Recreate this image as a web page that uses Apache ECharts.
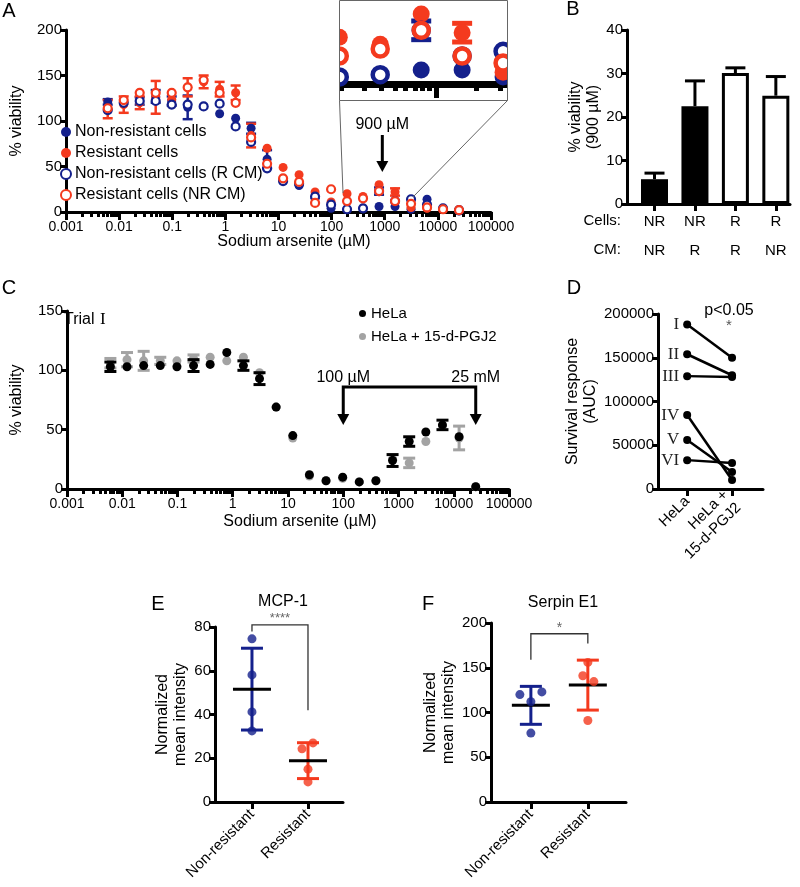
<!DOCTYPE html>
<html><head><meta charset="utf-8">
<script src="https://cdn.jsdelivr.net/npm/echarts@6/dist/echarts.min.js"></script>
<style>html,body{margin:0;padding:0;background:#fff}#c{width:800px;height:887px}</style>
</head><body><div id="c"></div>
<script>
// ---------------- data ----------------
const concentrations = [0.0061,0.0122,0.0244,0.0488,0.0977,0.195,0.39,0.78,1.56,3.05,6.1,12.2,24.4,48.8,97.7,195,390,781,1562,3125,6250,12500,25000];
// Panel A
const aNonResistant      = [121,121,122,127,122,115,116,108,103,92,58,35,29,15,4,3,4,6,6,3,14,3,1];
const aNonResistantSD    = [3,null,4,7,5,13,null,null,null,6,10,null,null,null,null,null,null,null,null,null,null,null,null];
const aResistant         = [113,118,120,126,124,137,143,135,131,84,70,49,41,22,11,20,17,30,22,5,4,3,2];
const aResistantSD       = [10,9,7,18,null,10,7,8,8,13,null,null,null,null,null,null,null,null,4,null,null,null,null];
const aNonResistantRCM   = [112,120,122,122,118,118,116,119,94,77,48,34,31,17,8,3,4,23,12,14,8,4,2];
const aNonResistantRCMSD = [null,null,null,null,null,null,null,null,null,null,null,null,null,null,null,null,null,4,null,null,null,null,null];
const aResistantNRCM     = [114,123,131,131,131,137,145,131,120,82,53,37,33,10,25,12,15,23,12,9,5,3,2];
// Panel B
const bCells = ['NR','NR','R','R'];
const bCM    = ['NR','R','R','NR'];
const bMean  = [5.7,22.5,30.1,24.9];
const bSD    = [1.4,5.8,1.2,4.4];
// Panel C
const cHeLa     = [103,103,104,104,103,104,105,115,104,93,69,45,12,7,10,6,7,24,40,48,54,44,2];
const cHeLaSD   = [4,null,null,null,null,5,null,null,4,5,null,null,null,null,null,null,null,5,4,null,4,null,null];
const cPGJ2     = [106,109,108,108,108,110,111,108,111,98,69,43,11,7,9,6,7,25,22,40,53,43,2];
const cPGJ2SD   = [4,6,8,3,null,3,null,null,null,null,null,null,null,null,null,null,null,null,4,null,null,10,null];
// Panel D
const dTrials   = ['I','II','III','IV','V','VI'];
const dHeLa     = [188000,154000,129000,84500,56000,33000];
const dHeLaPGJ2 = [150000,130000,128000,10300,19400,29700];
const dGroups   = ['HeLa','HeLa +\n15-d-PGJ2'];
// Panel E (MCP-1)
const groups      = ['Non-resistant','Resistant'];
const eNonRes     = [74.6,58.1,41.2,32.5];
const eRes        = [24.3,27.0,15.0,9.2];
const eMean       = [51.6,18.9];
const eSD         = [18.7,8.2];
// Panel F (Serpin E1)
const fNonRes     = [120,123,112,77];
const fRes        = [156,141,134.5,91];
const fMean       = [108,130.6];
const fSD         = [21.2,27.9];
// x-axis tick labels
const logTickLabels = [0.001,0.01,0.1,1,10,100,1000,10000,100000];

// ---------------- style ----------------
const FONT = '"Liberation Sans", Arial, Helvetica, sans-serif';
const SERIF = '"Liberation Serif", "DejaVu Serif", serif';
const BLUE = '#14208c', RED = '#f43a1e', GRAY = '#a3a3a3', BLACK = '#000';
const jitterE = [[0,0,0,0],[-6,5,0,0]];
const jitterF = [[-11,11,0,0],[0,-5,6,0]];

const minorTicks = [];
for (let d = -3; d < 5; d++) for (let k = 2; k <= 9; k++) minorTicks.push(+(k * Math.pow(10, d)).toPrecision(2));
const fmtNum = v => String(+Number(v).toPrecision(6));

function logAxisPair(gridIndex, min, max, o) {
  const inR = v => v >= min * 0.999 && v <= max * 1.001;
  const major = {
    type: 'log', logBase: 10, gridIndex, min, max, position: 'bottom',
    axisLine: { show: true, onZero: false, lineStyle: { color: BLACK, width: o.lw } },
    axisTick: { show: true, length: o.major, customValues: logTickLabels.filter(inR), lineStyle: { color: BLACK, width: o.tw } },
    axisLabel: { show: o.labels, customValues: logTickLabels.filter(inR), formatter: fmtNum, fontSize: 14, color: BLACK, fontFamily: FONT, margin: 8,
      alignMinLabel: 'center', alignMaxLabel: 'center' },
    splitLine: { show: false }, minorTick: { show: false }
  };
  const minor = {
    type: 'log', logBase: 10, gridIndex, min, max, position: 'bottom',
    axisLine: { show: false, onZero: false },
    axisTick: { show: true, length: o.minor, customValues: minorTicks.filter(inR), lineStyle: { color: BLACK, width: o.tw } },
    axisLabel: { show: false }, splitLine: { show: false }
  };
  return [major, minor];
}
function valueY(gridIndex, max, interval, name, nameGap, show = true) {
  return {
    type: 'value', gridIndex, min: 0, max, interval, show,
    name, nameLocation: 'middle', nameGap, nameRotate: 90,
    nameTextStyle: { fontSize: 16, color: BLACK, fontFamily: FONT, lineHeight: 18 },
    axisLine: { show: true, lineStyle: { color: BLACK, width: 3 } },
    axisTick: { show: true, length: 6, lineStyle: { color: BLACK, width: 3 } },
    axisLabel: { fontSize: 15, color: BLACK, fontFamily: FONT, margin: 4, formatter: v => String(v) },
    splitLine: { show: false }
  };
}
function catValueX(gridIndex, min, max, labels, o) {
  const vals = labels.map((_, i) => i + 1);
  return {
    type: 'value', gridIndex, min, max, position: 'bottom',
    axisLine: { show: true, onZero: false, lineStyle: { color: BLACK, width: 3 } },
    axisTick: { show: true, length: 7, customValues: vals, lineStyle: { color: BLACK, width: 3 } },
    axisLabel: { customValues: vals, formatter: v => labels[Math.round(v) - 1], rotate: o.rotate || 0,
      fontSize: 15, color: BLACK, fontFamily: FONT, margin: o.margin || 8, lineHeight: o.lineHeight || 18 },
    splitLine: { show: false }
  };
}
function errorSeries(name, xi, yi, xs, ys, sds, color, o) {
  const data = [];
  xs.forEach((x, i) => { if (sds[i] != null) data.push([x, o.upOnly ? ys[i] : ys[i] - sds[i], ys[i] + sds[i]]); });
  return {
    type: 'custom', name, xAxisIndex: xi, yAxisIndex: yi, data, silent: true, clip: true, z: o.z || 2,
    encode: { x: 0, y: [1, 2] },
    renderItem(params, api) {
      const x = api.value(0), p1 = api.coord([x, api.value(1)]), p2 = api.coord([x, api.value(2)]);
      const st = { stroke: color, lineWidth: o.lw };
      const ch = [
        { type: 'line', shape: { x1: p1[0], y1: p1[1], x2: p2[0], y2: p2[1] }, style: st },
        { type: 'line', shape: { x1: p2[0] - o.cap, y1: p2[1], x2: p2[0] + o.cap, y2: p2[1] }, style: st }
      ];
      if (!o.upOnly) ch.push({ type: 'line', shape: { x1: p1[0] - o.cap, y1: p1[1], x2: p1[0] + o.cap, y2: p1[1] }, style: st });
      return { type: 'group', children: ch };
    }
  };
}
function meanSDSeries(name, xi, yi, means, sds, colors) {
  return {
    type: 'custom', name, xAxisIndex: xi, yAxisIndex: yi, silent: true, z: 4,
    data: means.map((m, i) => [i + 1, m, sds[i]]),
    encode: { x: 0, y: 1 },
    renderItem(params, api) {
      const x = api.value(0), m = api.value(1), s = api.value(2);
      const lo = api.coord([x, m - s]), hi = api.coord([x, m + s]), mid = api.coord([x, m]);
      const c = colors[params.dataIndex];
      const st = { stroke: c, lineWidth: 3 };
      return { type: 'group', children: [
        { type: 'line', shape: { x1: lo[0], y1: lo[1], x2: hi[0], y2: hi[1] }, style: st },
        { type: 'line', shape: { x1: hi[0] - 11, y1: hi[1], x2: hi[0] + 11, y2: hi[1] }, style: st },
        { type: 'line', shape: { x1: lo[0] - 11, y1: lo[1], x2: lo[0] + 11, y2: lo[1] }, style: st },
        { type: 'line', shape: { x1: mid[0] - 19, y1: mid[1], x2: mid[0] + 19, y2: mid[1] }, style: { stroke: BLACK, lineWidth: 3 } }
      ] };
    }
  };
}
const pts = (ys) => concentrations.map((c, i) => [c, ys[i]]);
function scatter(name, xi, yi, ys, color, size, hollow, bw, z) {
  return {
    type: 'scatter', name, xAxisIndex: xi, yAxisIndex: yi, data: pts(ys), symbol: 'circle', symbolSize: size, clip: true, z: z || 3,
    itemStyle: hollow ? { color: '#fff', borderColor: color, borderWidth: bw, opacity: 1 } : { color, opacity: 1 },
    emphasis: { disabled: true }
  };
}

// ---------------- axes ----------------
const [axA, axAm] = logAxisPair(0, 0.001, 100000, { lw: 3, tw: 3, major: 8, minor: 5, labels: true });
const [axI, axIm] = logAxisPair(1, 194, 3340, { lw: 7, tw: 5, major: 14, minor: 7, labels: false });
const [axC, axCm] = logAxisPair(3, 0.001, 100000, { lw: 3, tw: 3, major: 8, minor: 5, labels: true });
const xAxes = [
  axA, axAm, axI, axIm,
  catValueX(2, 0.32, 4.35, bCells.map((c, i) => c + '\n' + bCM[i]), { margin: 3, lineHeight: 29 }),
  axC, axCm,
  catValueX(4, 0.35, 2.69, dGroups, { rotate: 45, margin: 10 }),
  catValueX(5, 0.34, 2.625, groups, { rotate: 45, margin: 10 }),
  catValueX(6, 0.30, 2.67, groups, { rotate: 45, margin: 10 })
];
const yAxes = [
  valueY(0, 200, 50, '% viability', 40),
  valueY(1, 36, 12, '', 0, false),
  valueY(2, 40, 10, '% viability\n(900 µM)', 23),
  valueY(3, 150, 50, '% viability', 41),
  valueY(4, 200000, 50000, 'Survival response\n(AUC)', 53),
  valueY(5, 80, 20, 'Normalized\nmean intensity', 25),
  valueY(6, 200, 50, 'Normalized\nmean intensity', 31)
];

// ---------------- series ----------------
const series = [];
// A main
series.push(scatter('Non-resistant cells', 0, 0, aNonResistant, BLUE, 9, false));
series.push(scatter('Resistant cells', 0, 0, aResistant, RED, 9, false));
series.push(scatter('Non-resistant cells (R CM)', 0, 0, aNonResistantRCM, BLUE, 8, true, 2.2));
series.push(scatter('Resistant cells (NR CM)', 0, 0, aResistantNRCM, RED, 8, true, 2.2));
series.push(errorSeries('eA1', 0, 0, concentrations, aNonResistant, aNonResistantSD, BLUE, { lw: 2.5, cap: 5 }));
series.push(errorSeries('eA2', 0, 0, concentrations, aResistant, aResistantSD, RED, { lw: 2.5, cap: 5 }));
series.push(errorSeries('eA3', 0, 0, concentrations, aNonResistantRCM, aNonResistantRCMSD, BLUE, { lw: 2.5, cap: 5 }));
// A inset (same data, magnified)
series.push(scatter('iNR', 2, 1, aNonResistant, BLUE, 17, false));
series.push(scatter('iR', 2, 1, aResistant, RED, 17, false));
series.push(scatter('iNRcm', 2, 1, aNonResistantRCM, BLUE, 15, true, 4.5));
series.push(scatter('iRcm', 2, 1, aResistantNRCM, RED, 15, true, 4.5));
series.push(errorSeries('ieA1', 2, 1, concentrations, aNonResistant, aNonResistantSD, BLUE, { lw: 5, cap: 10 }));
series.push(errorSeries('ieA2', 2, 1, concentrations, aResistant, aResistantSD, RED, { lw: 5, cap: 10 }));
series.push(errorSeries('ieA3', 2, 1, concentrations, aNonResistantRCM, aNonResistantRCMSD, BLUE, { lw: 5, cap: 10 }));
// B
series.push({
  type: 'bar', name: 'B', xAxisIndex: 4, yAxisIndex: 2, barWidth: 27, silent: true,
  data: bMean.map((v, i) => ({ value: [i + 1, v], itemStyle: bCells[i] === 'NR' ? { color: BLACK } : { color: '#fff', borderColor: BLACK, borderWidth: 3 } }))
});
series.push(errorSeries('eB', 4, 2, [1, 2, 3, 4], bMean, bSD, BLACK, { lw: 3, cap: 10, upOnly: true, z: 1 }));
// C
series.push(scatter('HeLa + 15-d-PGJ2', 5, 3, cPGJ2, GRAY, 9, false, 0, 2));
series.push(errorSeries('eC2', 5, 3, concentrations, cPGJ2, cPGJ2SD, GRAY, { lw: 3, cap: 6, z: 2 }));
series.push(scatter('HeLa', 5, 3, cHeLa, BLACK, 9, false, 0, 3));
series.push(errorSeries('eC1', 5, 3, concentrations, cHeLa, cHeLaSD, BLACK, { lw: 3, cap: 6, z: 3 }));
// D
dTrials.forEach((t, i) => {
  series.push({
    type: 'line', name: 'Trial ' + t, xAxisIndex: 7, yAxisIndex: 4, symbol: 'circle', symbolSize: 8, silent: true,
    lineStyle: { color: BLACK, width: 2.5 }, itemStyle: { color: BLACK },
    data: [
      { value: [1, dHeLa[i]], label: { show: true, formatter: t, position: 'left', distance: 4, fontFamily: SERIF, fontSize: 17, color: '#222' } },
      [2, dHeLaPGJ2[i]]
    ]
  });
});
// E
series.push({ type: 'scatter', name: 'eN', xAxisIndex: 8, yAxisIndex: 5, symbolSize: 9, z: 5, itemStyle: { color: BLUE },
  data: eNonRes.map((v, i) => ({ value: [1, v], symbolOffset: [jitterE[0][i], 0] })) });
series.push({ type: 'scatter', name: 'eR', xAxisIndex: 8, yAxisIndex: 5, symbolSize: 9, z: 5, itemStyle: { color: RED },
  data: eRes.map((v, i) => ({ value: [2, v], symbolOffset: [jitterE[1][i], 0] })) });
series.push(meanSDSeries('eMS', 8, 5, eMean, eSD, [BLUE, RED]));
// F
series.push({ type: 'scatter', name: 'fN', xAxisIndex: 9, yAxisIndex: 6, symbolSize: 9, z: 5, itemStyle: { color: BLUE },
  data: fNonRes.map((v, i) => ({ value: [1, v], symbolOffset: [jitterF[0][i], 0] })) });
series.push({ type: 'scatter', name: 'fR', xAxisIndex: 9, yAxisIndex: 6, symbolSize: 9, z: 5, itemStyle: { color: RED },
  data: fRes.map((v, i) => ({ value: [2, v], symbolOffset: [jitterF[1][i], 0] })) });
series.push(meanSDSeries('fMS', 9, 6, fMean, fSD, [BLUE, RED]));

const option = {
  animation: false,
  backgroundColor: '#fff',
  textStyle: { fontFamily: FONT },
  grid: [
    { left: 53, top: 30, width: 438, height: 182 },   // A
    { left: 339, top: 0, width: 168, height: 84 },    // inset
    { left: 627, top: 30, width: 163, height: 174 },  // B
    { left: 52, top: 311, width: 457, height: 178 },  // C
    { left: 658, top: 314, width: 105, height: 175 }, // D
    { left: 215, top: 627, width: 128, height: 175 }, // E
    { left: 491, top: 623, width: 135, height: 179 }  // F
  ],
  xAxis: xAxes,
  yAxis: yAxes,
  legend: [
    { data: ['Non-resistant cells', 'Resistant cells', 'Non-resistant cells (R CM)', 'Resistant cells (NR CM)'],
      orient: 'vertical', left: 60, top: 124, itemWidth: 10, itemHeight: 10, itemGap: 5, padding: 0, selectedMode: false,
      textStyle: { fontSize: 16, color: BLACK, fontFamily: FONT, padding: [0, 0, 0, -1] } },
    { data: ['HeLa', 'HeLa + 15-d-PGJ2'],
      orient: 'vertical', left: 359, top: 306, itemWidth: 7, itemHeight: 7, itemGap: 8, padding: 0, selectedMode: false,
      textStyle: { fontSize: 15, color: BLACK, fontFamily: FONT } }
  ],
  series
};

const chart = echarts.init(document.getElementById('c'));
chart.setOption(option);

// ---------------- annotations ----------------
const P = (xi, yi, pt) => chart.convertToPixel({ xAxisIndex: xi, yAxisIndex: yi }, pt);
const txt = (x, y, text, size, extra) => ({ type: 'text', x, y, z: 60, style: Object.assign({ text, fontSize: size, fill: BLACK, fontFamily: FONT, textAlign: 'center', textVerticalAlign: 'middle' }, extra || {}) });
const line = (pts, w, c) => ({ type: 'polyline', z: 60, shape: { points: pts }, style: { stroke: c || BLACK, lineWidth: w, fill: null } });
const head = (x, y, w, h) => ({ type: 'polygon', z: 60, shape: { points: [[x - w, y - h], [x + w, y - h], [x, y]] }, style: { fill: BLACK } });

const g = [];
// masks so the magnified inset is cut at its frame
g.push({ type: 'rect', z: 50, shape: { x: 315, y: 0, width: 24, height: 100 }, style: { fill: '#fff' } });
g.push({ type: 'rect', z: 50, shape: { x: 508, y: 0, width: 24, height: 100 }, style: { fill: '#fff' } });
// panel letters
[['A', 9, 11], ['B', 573, 9], ['C', 9, 288], ['D', 574, 288], ['E', 158, 604], ['F', 428, 604]].forEach(([t, x, y]) => g.push(txt(x, y, t, 20)));
// titles
g.push(txt(283, 602, 'MCP-1', 16));
g.push(txt(563, 603, 'Serpin E1', 16));
g.push(txt(294, 242, 'Sodium arsenite (µM)', 16));
g.push(txt(300, 522, 'Sodium arsenite (µM)', 16));
// B row headers
g.push(txt(621, 221, 'Cells:', 15, { textAlign: 'right' }));
g.push(txt(621, 250, 'CM:', 15, { textAlign: 'right' }));
// A arrow at 900 µM
const a900 = P(0, 0, [900, 44]);
g.push(txt(a900[0], 125, '900 µM', 16));
g.push(line([[a900[0], 135], [a900[0], a900[1] - 8]], 3));
g.push(head(a900[0], a900[1], 6, 11));
// inset box and connectors
g.push({ type: 'rect', z: 60, shape: { x: 339.5, y: 0.5, width: 168, height: 100 }, style: { stroke: '#666', lineWidth: 1, fill: null } });
g.push(line([[339.5, 100.5], [343, 193]], 1, '#666'));
g.push(line([[507.5, 100.5], [413, 197]], 1, '#666'));
// C Trial label
g.push(txt(64, 320, 'Trial ', 16, { textAlign: 'left' }));
g.push(txt(100, 320, 'I', 17, { textAlign: 'left', fontFamily: SERIF }));
// C bracket arrows (100 µM and 25 mM)
const c100 = P(5, 3, [100, 86]), c25 = P(5, 3, [25000, 86]), tipY = P(5, 3, [100, 54])[1];
g.push(line([[c100[0], tipY - 9], [c100[0], c100[1]], [c25[0], c25[1]], [c25[0], tipY - 9]], 3));
g.push(head(c100[0], tipY, 6, 11));
g.push(head(c25[0], tipY, 6, 11));
g.push(txt(c100[0], c100[1] - 9, '100 µM', 16));
g.push(txt(c25[0], c25[1] - 9, '25 mM', 16));
// D significance
const dSig = P(7, 4, [2, 210000]);
g.push(txt(dSig[0] - 3, 311, 'p<0.05', 16));
g.push(txt(dSig[0] - 3, 326, '*', 15, { fill: '#555' }));
// E bracket
const e1 = P(8, 5, [1, 81]), e1b = P(8, 5, [1, 78]), e2 = P(8, 5, [2, 81]), e2b = P(8, 5, [2, 42]);
g.push(line([[e1b[0], e1b[1]], [e1[0], e1[1]], [e2[0], e2[1]], [e2b[0], e2b[1]]], 1.3, '#333'));
g.push(txt((e1[0] + e2[0]) / 2, e1[1] - 6, '****', 13, { fill: '#666' }));
// F bracket
const f1 = P(9, 6, [1, 188]), f1b = P(9, 6, [1, 159]), f2 = P(9, 6, [2, 188]), f2b = P(9, 6, [2, 177]);
g.push(line([[f1b[0], f1b[1]], [f1[0], f1[1]], [f2[0], f2[1]], [f2b[0], f2b[1]]], 1.3, '#333'));
g.push(txt((f1[0] + f2[0]) / 2, f1[1] - 6, '*', 14, { fill: '#666' }));

chart.setOption({ graphic: g });
</script>
</body></html>
